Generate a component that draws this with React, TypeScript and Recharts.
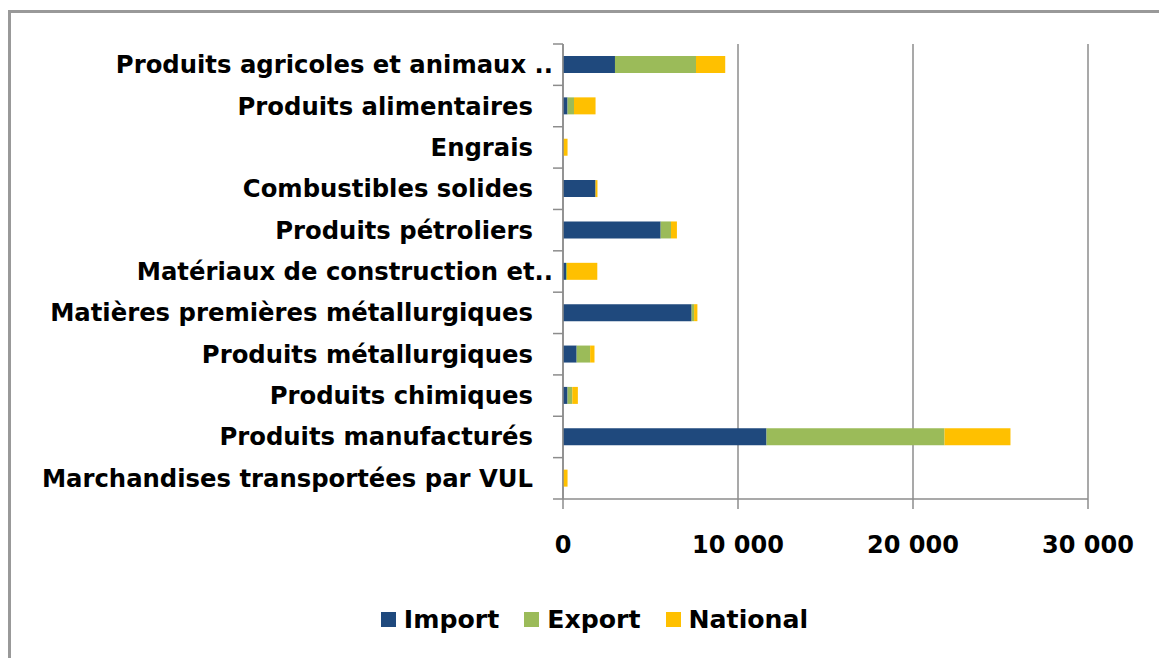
import React from 'react';
import { BarChart, Bar, XAxis, YAxis, CartesianGrid, Legend } from 'recharts';

const categories = [
  'Produits agricoles et animaux ..',
  'Produits alimentaires',
  'Engrais',
  'Combustibles solides',
  'Produits pétroliers',
  'Matériaux de construction et..',
  'Matières premières métallurgiques',
  'Produits métallurgiques',
  'Produits chimiques',
  'Produits manufacturés',
  'Marchandises transportées par VUL',
];
const importValues = [2970, 260, 0, 1860, 5580, 170, 7350, 780, 260, 11630, 0];
const exportValues = [4630, 370, 0, 0, 590, 60, 140, 770, 270, 10170, 0];
const nationalValues = [1670, 1230, 260, 110, 340, 1730, 190, 250, 320, 3770, 260];
const xTicks = [0, 10000, 20000, 30000];
const seriesNames = ['Import', 'Export', 'National'];

const data = categories.map((name, i) => ({
  name,
  Import: importValues[i],
  Export: exportValues[i],
  National: nationalValues[i],
}));

const COLORS: Record<string, string> = {
  Import: '#1F497D',
  Export: '#9BBB59',
  National: '#FFC000',
};
const FONT = '"DejaVu Sans", Verdana, sans-serif';
const GRAY = '#8c8c8c';
const W = 1159;
const H = 658;
const PLOT_LEFT = 563;
const PLOT_TOP = 44;
const PLOT_BOTTOM = 499;
const BAND = (PLOT_BOTTOM - PLOT_TOP) / categories.length;

const fmt = (v: number) => String(v).replace(/\B(?=(\d{3})+(?!\d))/g, ' ');

const YTick = (props: any) => {
  const { y, payload, index } = props;
  const label: string = payload.value;
  const trunc = label.endsWith('..');
  return (
    <g>
      <text
        x={trunc ? PLOT_LEFT - 10 : PLOT_LEFT - 30}
        y={y}
        textAnchor="end"
        dominantBaseline="central"
        fontFamily={FONT}
        fontWeight="bold"
        fontSize={24.3}
        fill="#000"
      >
        {label}
      </text>
      {index === 0 && (
        <line x1={PLOT_LEFT - 10} x2={PLOT_LEFT} y1={y - BAND / 2} y2={y - BAND / 2} stroke={GRAY} strokeWidth={1.5} />
      )}
      <line x1={PLOT_LEFT - 10} x2={PLOT_LEFT} y1={y + BAND / 2} y2={y + BAND / 2} stroke={GRAY} strokeWidth={1.5} />
    </g>
  );
};

const XTick = (props: any) => {
  const { x, payload } = props;
  return (
    <text
      x={x}
      y={PLOT_BOTTOM + 46}
      textAnchor="middle"
      dominantBaseline="central"
      fontFamily={FONT}
      fontWeight="bold"
      fontSize={24}
      fill="#000"
    >
      {fmt(payload.value)}
    </text>
  );
};

const LegendContent = () => (
  <div style={{ display: 'flex', justifyContent: 'center', alignItems: 'center', paddingLeft: 30, fontFamily: FONT, fontWeight: 'bold', fontSize: 25.2, color: '#000' }}>
    {seriesNames.map((n, i) => (
      <div key={n} style={{ display: 'flex', alignItems: 'center', marginLeft: i === 0 ? 0 : 25 }}>
        <div style={{ width: 15, height: 15, background: COLORS[n], marginRight: 8 }} />
        <span>{n}</span>
      </div>
    ))}
  </div>
);

export default function App() {
  return (
    <div style={{ position: 'absolute', left: 0, top: 0, width: W, height: H, overflow: 'hidden', background: '#fff' }}>
      <div
        style={{
          position: 'absolute',
          left: 8,
          top: 10,
          width: W + 20,
          height: H + 20,
          border: '3px solid #999',
          boxSizing: 'border-box',
        }}
      />
      <div style={{ position: 'absolute', left: 0, top: 0 }}>
        <BarChart
          width={W}
          height={H}
          data={data}
          layout="vertical"
          margin={{ top: PLOT_TOP, right: 71, left: 0, bottom: 99 }}
          barSize={17}
        >
          <CartesianGrid horizontal={false} vertical={true} stroke={GRAY} strokeWidth={1.5} />
          <XAxis
            type="number"
            domain={[0, 30000]}
            ticks={xTicks}
            interval={0}
            height={60}
            axisLine={{ stroke: GRAY, strokeWidth: 1.5 }}
            tickLine={{ stroke: GRAY, strokeWidth: 1.5 }}
            tickSize={10}
            tick={<XTick />}
          />
          <YAxis
            type="category"
            dataKey="name"
            width={PLOT_LEFT}
            axisLine={{ stroke: GRAY, strokeWidth: 1.5 }}
            tickLine={false}
            interval={0}
            tick={<YTick />}
          />
          <Legend
            verticalAlign="middle"
            layout="horizontal"
            content={<LegendContent />}
            wrapperStyle={{ position: 'absolute', top: 605, left: 0, width: W, height: 30 }}
          />
          {seriesNames.map((n) => (
            <Bar key={n} dataKey={n} stackId="a" fill={COLORS[n]} isAnimationActive={false} />
          ))}
        </BarChart>
      </div>
    </div>
  );
}
